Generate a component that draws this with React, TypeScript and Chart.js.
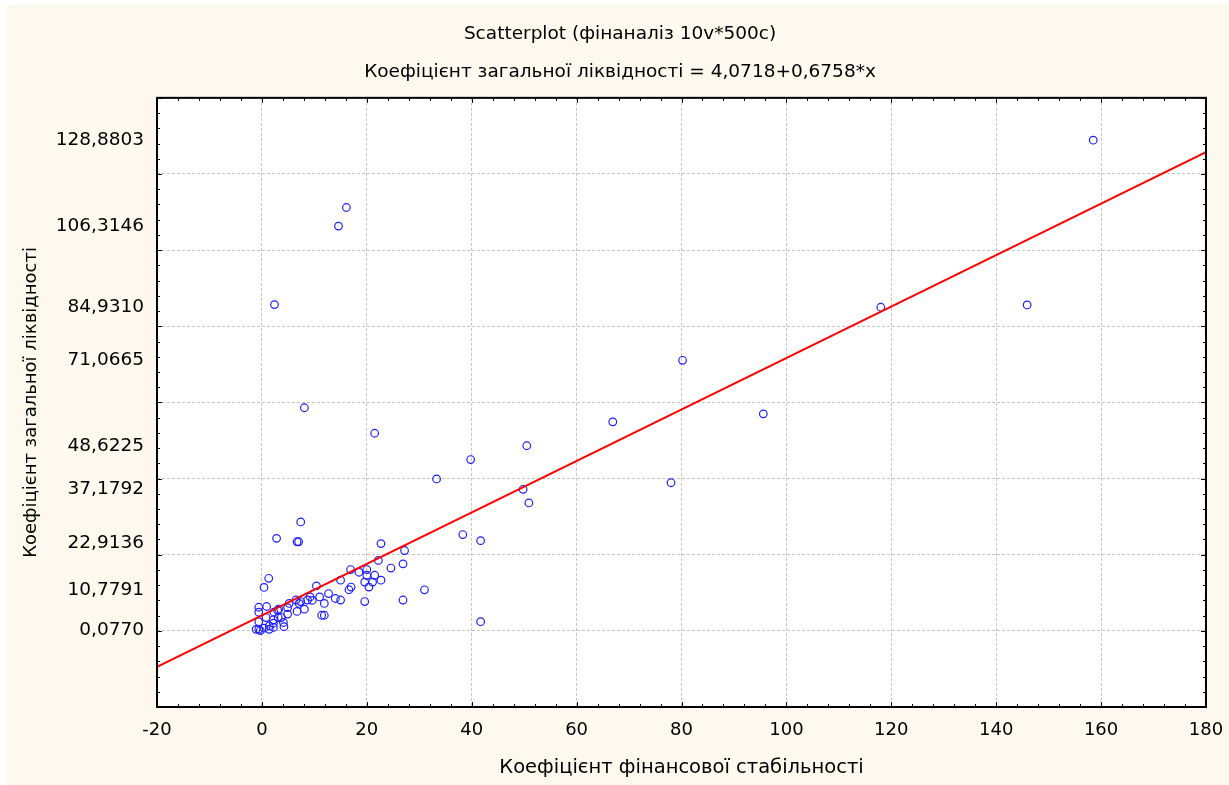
import React, { useEffect, useRef } from 'react';
import { Chart, registerables } from 'chart.js';

Chart.register(...registerables);

// ---- data ----
const xValues = [
  158.5, 145.9, 118.0, 2.4, 16.1, 14.6, 80.2, 8.1, 21.5, 95.6,
  66.9, 50.5, 39.8, 33.3, 78.0, 49.8, 50.9, 38.3, 41.7, 27.2,
  26.9, 31.0, 26.9, 41.7, 7.4, 2.8, 6.7, 7.0, 22.7, 22.2,
  24.6, 16.9, 18.5, 20.0, 20.0, 21.5, 19.6, 21.1, 22.7, 20.4,
  15.0, 17.0, 16.6, 10.4, 1.3, 0.4, 19.6, 12.7, 14.0, 15.0,
  11.0, 9.2, 9.6, 11.9, 7.4, 8.1, 6.7, 11.4, 11.9, 5.2,
  4.9, 3.2, -0.6, 0.9, -0.6, 2.3, 3.1, 3.7, 4.1, 4.2,
  4.9, 2.2, 2.2, 0.8, 1.4, -0.6, -1.1, -0.6, 0.4, 1.4,
  2.2, 6.5, 7.1, 8.7, 3.0, -0.3,
];
const yValues = [
  128.8803, 85.6, 85.0, 85.7, 111.2, 106.3146, 71.0665, 58.6, 51.9, 57.0,
  54.9, 48.6225, 45.0, 39.9, 38.9, 37.1792, 33.6, 25.3, 23.7, 21.1,
  17.6, 10.7791, 8.1, 2.4, 28.6, 24.3, 23.4, 23.4, 22.9136, 18.5,
  16.5, 16.1, 15.4, 16.1, 14.6, 14.6, 12.8, 12.8, 13.3, 11.5,
  13.3, 11.5, 10.8, 11.8, 13.8, 11.4, 7.7, 9.8, 8.5, 8.1,
  8.9, 8.9, 8.0, 7.2, 7.7, 5.7, 5.1, 4.1, 4.1, 7.2,
  6.1, 5.7, 6.2, 6.4, 4.9, 4.9, 3.5, 3.5, 2.2, 1.1,
  4.4, 2.9, 2.0, 3.5, 1.3, 2.4, 0.4, 0.4, 0.7, 0.4,
  0.9, 8.1, 7.2, 8.1, 5.4, 0.077,
];

// regression line given in the subtitle
const intercept = 4.0718;
const slope = 0.6758;
const lineX = [-20, 180];

// axes
const xMin = -20;
const xMax = 180;
const xStep = 20;
const yMin = -20;
const yMax = 140;
const yGridValues = [-20, 0, 20, 40, 60, 80, 100, 120, 140];
const yTickLabels = [0.077, 10.7791, 22.9136, 37.1792, 48.6225, 71.0665, 84.931, 106.3146, 128.8803];

const titleLines = [
  'Scatterplot (фінаналіз 10v*500c)',
  'Коефіцієнт загальної ліквідності = 4,0718+0,6758*x',
];
const xTitle = 'Коефіцієнт фінансової стабільності';
const yTitle = 'Коефіцієнт загальної ліквідності';

const FONT = 'DejaVu Sans';
const CREAM = '#FEF9EF';
const GRID = '#C4C4C4';
const POINT = '#1E1EFF';

const fmt = (v: number) => v.toFixed(4).replace('.', ',');

const framePlugin = {
  id: 'frame',
  beforeDraw(chart: any) {
    const { ctx, chartArea: a, width, height } = chart;
    ctx.save();
    ctx.fillStyle = '#ffffff';
    ctx.fillRect(0, 0, width, height);
    ctx.fillStyle = CREAM;
    ctx.fillRect(7, 5, width - 7, height - 5);
    ctx.fillStyle = '#ffffff';
    ctx.fillRect(a.left, a.top, a.right - a.left, a.bottom - a.top);
    ctx.restore();
  },
  afterDraw(chart: any) {
    const { ctx, chartArea: a, scales } = chart;
    const sx = scales.x;
    const sy = scales.y;
    ctx.save();
    ctx.strokeStyle = '#000';
    ctx.lineWidth = 1;
    ctx.beginPath();
    for (let v = xMin; v <= xMax; v += 4) {
      const px = Math.round(sx.getPixelForValue(v)) + 0.5;
      const len = v % 20 === 0 ? 5 : 3;
      ctx.moveTo(px, a.bottom);
      ctx.lineTo(px, a.bottom - len);
      ctx.moveTo(px, a.top);
      ctx.lineTo(px, a.top + len);
    }
    for (let v = yMin; v <= yMax; v += 4) {
      const py = Math.round(sy.getPixelForValue(v)) + 0.5;
      const len = v % 20 === 0 ? 5 : 3;
      ctx.moveTo(a.left, py);
      ctx.lineTo(a.left + len, py);
      ctx.moveTo(a.right, py);
      ctx.lineTo(a.right - len, py);
    }
    ctx.stroke();
    ctx.lineWidth = 2;
    ctx.strokeRect(a.left, a.top, a.right - a.left, a.bottom - a.top);
    ctx.restore();
  },
};

export default function App() {
  const ref = useRef<HTMLCanvasElement | null>(null);

  useEffect(() => {
    if (!ref.current) return;
    const points = xValues.map((x, i) => ({ x, y: yValues[i] }));
    const linePts = lineX.map((x) => ({ x, y: intercept + slope * x }));
    const font = { family: FONT, size: 18, weight: 'normal' as const };

    const chart = new Chart(ref.current, {
      type: 'scatter',
      data: {
        datasets: [
          {
            type: 'line',
            data: linePts,
            borderColor: '#FF0000',
            borderWidth: 2,
            pointRadius: 0,
            fill: false,
          } as any,
          {
            type: 'scatter',
            data: points,
            pointStyle: 'circle',
            pointRadius: 3.8,
            borderWidth: 1.2,
            borderColor: POINT,
            backgroundColor: 'rgba(0,0,0,0)',
          } as any,
        ],
      },
      options: {
        responsive: false,
        animation: false,
        devicePixelRatio: 1,
        layout: { padding: { left: 17, right: 6, top: 0, bottom: 0 } },
        plugins: {
          legend: { display: false },
          tooltip: { enabled: false },
          title: {
            display: true,
            text: titleLines,
            color: '#000',
            font: { family: FONT, size: 18.5, weight: 'normal', lineHeight: 2.05 },
            padding: { top: 15, bottom: 7 },
          },
        },
        scales: {
          x: {
            type: 'linear',
            position: 'bottom',
            min: xMin,
            max: xMax,
            afterFit: (s: any) => {
              s.height = 78;
              s.paddingLeft = 0;
              s.paddingRight = 23;
            },
            ticks: {
              stepSize: xStep,
              color: '#000',
              font,
              padding: 13,
              maxRotation: 0,
              autoSkip: false,
            },
            grid: { color: GRID, lineWidth: 1, drawTicks: false },
            border: { display: false, dash: [3, 2] },
            title: {
              display: true,
              text: xTitle,
              color: '#000',
              font: { family: FONT, size: 19.5, weight: 'normal' },
              padding: { top: 0, bottom: 5 },
            },
          },
          y: {
            type: 'linear',
            position: 'left',
            min: yMin,
            max: yMax,
            afterFit: (s: any) => {
              s.width = 140;
              s.paddingTop = 0;
              s.paddingBottom = 0;
            },
            afterBuildTicks: (s: any) => {
              s.ticks = [...yGridValues, ...yTickLabels].map((v) => ({ value: v }));
            },
            ticks: {
              color: '#000',
              font: { family: FONT, size: 18.5, weight: 'normal' },
              padding: 13,
              autoSkip: false,
              callback: (v: any) => (yTickLabels.includes(Number(v)) ? fmt(Number(v)) : ''),
            },
            grid: {
              lineWidth: 1,
              drawTicks: false,
              color: (c: any) =>
                c.tick && yGridValues.includes(c.tick.value) ? GRID : 'rgba(0,0,0,0)',
            },
            border: { display: false, dash: [3, 2] },
            title: {
              display: true,
              text: yTitle,
              color: '#000',
              font,
              padding: { top: 4, bottom: 0 },
            },
          },
        },
      },
      plugins: [framePlugin],
    });
    return () => chart.destroy();
  }, []);

  return (
    <div style={{ position: 'fixed', left: 0, top: 0, width: 1229, height: 785 }}>
      <canvas ref={ref} width={1229} height={785} style={{ display: 'block' }} />
    </div>
  );
}
